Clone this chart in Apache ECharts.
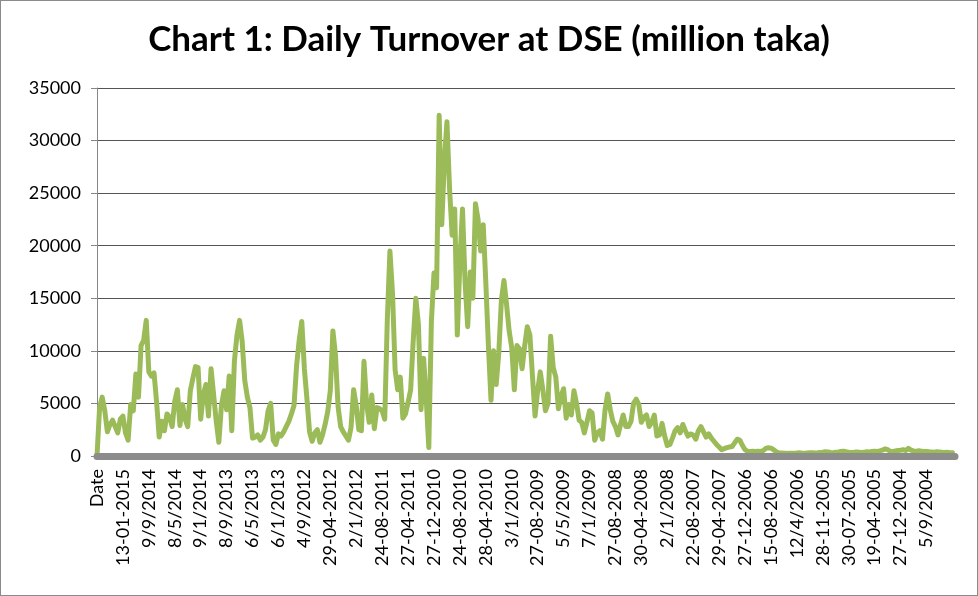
<!DOCTYPE html>
<html>
<head>
<meta charset="utf-8">
<script src="https://cdn.jsdelivr.net/npm/echarts@6/dist/echarts.min.js"></script>
<style>
  html, body { margin: 0; padding: 0; background: #fff; }
  #wrap { position: relative; width: 978px; height: 596px; }
  #chart { width: 978px; height: 596px; }
  #frame { position: absolute; left: 0; top: 0; width: 978px; height: 596px; box-sizing: border-box; border: 1px solid #8a8a8a; pointer-events: none; }
</style>
</head>
<body>
<div id="wrap">
  <div id="chart"></div>
  <div id="frame"></div>
</div>
<script>
// labels shown under the axis, one every 10 points
const tickLabels = ['Date', '13-01-2015', '9/9/2014', '8/5/2014', '9/1/2014', '8/9/2013', '6/5/2013', '6/1/2013',
    '4/9/2012', '29-04-2012', '2/1/2012', '24-08-2011', '27-04-2011', '27-12-2010', '24-08-2010', '28-04-2010',
    '3/1/2010', '27-08-2009', '5/5/2009', '7/1/2009', '27-08-2008', '30-04-2008', '2/1/2008', '22-08-2007',
    '29-04-2007', '27-12-2006', '15-08-2006', '12/4/2006', '28-11-2005', '30-07-2005', '19-04-2005',
    '27-12-2004', '5/9/2004'];
const labelStep = 10;

// daily turnover (million taka), newest first
const turnover = [
    0, 4600, 5600, 4300, 2300, 3000, 3400, 2800, 2200, 3500,
    3800, 2200, 1500, 4900, 4300, 7800, 5600, 10500, 11000, 12900,
    8000, 7600, 7900, 5100, 1800, 3300, 2400, 4000, 3700, 2800,
    5200, 6300, 2900, 4900, 3500, 2800, 6200, 7400, 8500, 8400,
    3500, 5800, 6800, 3800, 8300, 5800, 3300, 1300, 4800, 6200,
    4400, 7600, 2400, 9000, 11500, 12900, 10900, 7200, 5600, 4600,
    1700, 1800, 2000, 1500, 1800, 2500, 4300, 5000, 1500, 1100,
    2100, 1900, 2300, 2800, 3300, 4000, 4800, 8600, 11000, 12800,
    8300, 5400, 2300, 1400, 2200, 2500, 1300, 2000, 3000, 4200,
    6200, 11900, 9600, 4700, 2800, 2300, 1900, 1500, 2700, 6300,
    4800, 2500, 2400, 9000, 5000, 3200, 5800, 2600, 4600, 4500,
    4300, 3500, 13000, 19500, 15500, 8200, 6300, 7500, 3600, 4000,
    5100, 6300, 11000, 15000, 12500, 4400, 9300, 5500, 800, 12800,
    17400, 16000, 32400, 22000, 28000, 31800, 25500, 21000, 23500, 11500,
    18500, 23500, 16500, 12300, 17500, 15000, 24000, 22500, 19500, 22000,
    16500, 10500, 5300, 10000, 6800, 9800, 14800, 16700, 14400, 11900,
    10300, 6300, 10500, 10200, 8300, 10500, 12300, 11500, 7600, 3800,
    6200, 8000, 6300, 4300, 5000, 11400, 8400, 7500, 4500, 5700,
    6400, 3600, 4900, 3900, 6200, 5000, 3400, 3200, 2200, 3200,
    4300, 4100, 1500, 2200, 2400, 1600, 4400, 5900, 4400, 3300,
    2800, 2000, 3000, 3900, 2800, 2800, 3300, 5000, 5400, 4900,
    3200, 3700, 3900, 2800, 3200, 3900, 1900, 2000, 3100, 1900,
    1000, 1100, 1700, 2400, 2700, 2200, 3000, 2400, 1900, 2100,
    2000, 1600, 2400, 2800, 2300, 1800, 2100, 1700, 1400, 1100,
    850, 600, 700, 800, 850, 900, 1250, 1600, 1500, 1000,
    600, 450, 420, 450, 430, 460, 440, 500, 720, 780,
    750, 600, 400, 300, 280, 260, 250, 270, 260, 250,
    280, 300, 270, 260, 280, 300, 320, 290, 300, 330,
    350, 400, 380, 340, 320, 350, 380, 420, 450, 400,
    360, 340, 350, 380, 360, 340, 370, 400, 380, 420,
    450, 430, 480, 550, 680, 600, 450, 420, 480, 520,
    550, 600, 520, 720, 560, 480, 440, 500, 460, 420,
    440, 400, 380, 360, 400, 380, 350, 330, 350, 320,
    300
];

const yTicks = { min: 0, max: 35000, step: 5000 };

var chartDom = document.getElementById('chart');
var myChart = echarts.init(chartDom);
var option;

option = {
    animation: false,
    title: {
        text: 'Chart 1: Daily Turnover at DSE (million taka)',
        left: 'center',
        top: 17,
        textStyle: {
            fontFamily: 'Lato',
            fontWeight: 'bold',
            fontSize: 35,
            color: '#000'
        }
    },
    grid: {
        left: 97,
        right: 23,
        top: 88,
        bottom: 140
    },
    xAxis: {
        type: 'value',
        min: 0,
        max: turnover.length,
        interval: labelStep,
        offset: 3,
        z: 5,
        axisLine: {
            lineStyle: { color: '#8c8c8c', width: 7 }
        },
        axisTick: { show: false },
        splitLine: { show: false },
        axisLabel: {
            rotate: 90,
            margin: 10,
            showMaxLabel: false,
            fontFamily: 'Lato',
            fontSize: 18,
            color: '#000',
            formatter: (v) => tickLabels[v / labelStep] || ''
        }
    },
    yAxis: {
        type: 'value',
        min: yTicks.min,
        max: yTicks.max,
        interval: yTicks.step,
        axisLine: {
            show: true,
            lineStyle: { color: '#868686', width: 1 }
        },
        axisTick: {
            show: true,
            length: 6,
            lineStyle: { color: '#868686' }
        },
        splitLine: {
            lineStyle: { color: '#555', width: 1 }
        },
        axisLabel: {
            margin: 16,
            fontFamily: 'Lato',
            fontSize: 18,
            color: '#000',
            formatter: (v) => String(v)
        }
    },
    series: [
        {
            name: 'Turnover',
            type: 'line',
            showSymbol: false,
            data: turnover.map((v, i) => [i, v]),
            lineStyle: {
                color: '#9bbb59',
                width: 5,
                join: 'round',
                cap: 'round'
            },
            itemStyle: { color: '#9bbb59' }
        }
    ]
};

option && myChart.setOption(option);
</script>
</body>
</html>
